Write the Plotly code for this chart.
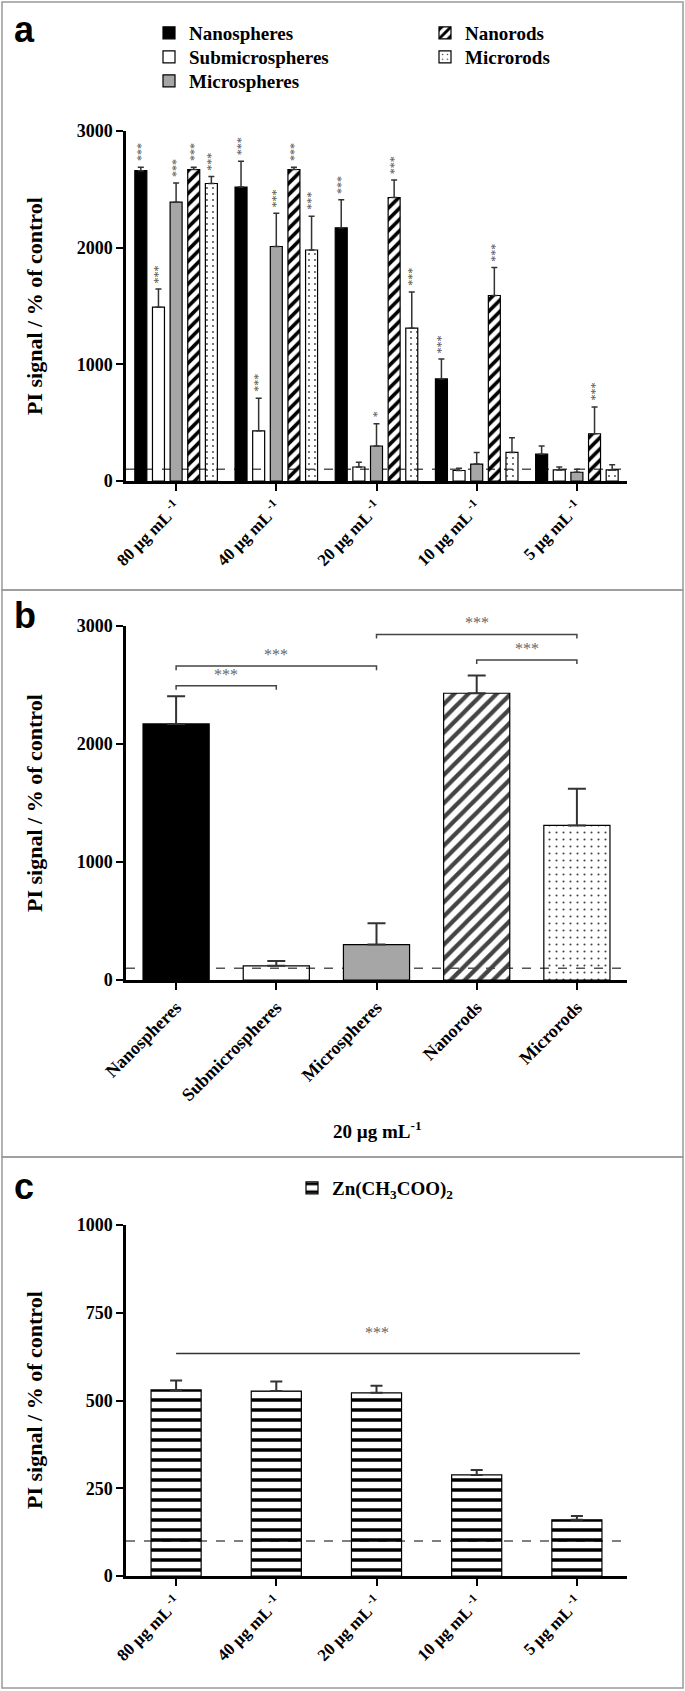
import plotly.graph_objects as go

W, H = 685, 1691

# ---- panel a: PI signal for each material at each concentration ----
conc_labels = ["80 µg mL <sup>-1</sup>", "40 µg mL <sup>-1</sup>", "20 µg mL <sup>-1</sup>",
               "10 µg mL <sup>-1</sup>", "5 µg mL <sup>-1</sup>"]
materials = ["Nanospheres", "Submicrospheres", "Microspheres", "Nanorods", "Microrods"]

nanospheres_mean = [2660, 2520, 2170, 875, 230]
nanospheres_sem = [30, 220, 240, 170, 70]
nanospheres_sig = ["***", "***", "***", "***", ""]

submicro_mean = [1490, 430, 120, 90, 95]
submicro_sem = [155, 280, 40, 20, 25]
submicro_sig = ["***", "***", "", "", ""]

microspheres_mean = [2390, 2010, 300, 145, 75]
microspheres_sem = [165, 285, 190, 100, 25]
microspheres_sig = ["***", "***", "*", "", ""]

nanorods_mean = [2670, 2670, 2430, 1590, 405]
nanorods_sem = [20, 20, 150, 240, 230]
nanorods_sig = ["***", "***", "***", "***", "***"]

microrods_mean = [2550, 1980, 1310, 245, 95]
microrods_sem = [60, 290, 310, 125, 45]
microrods_sig = ["***", "***", "***", "", ""]

# ---- panel b: 20 µg/mL comparison ----
b_mean = [2170, 120, 300, 2430, 1310]
b_sem = [235, 40, 180, 150, 310]
b_pairs = [(0, 1), (0, 2), (2, 4), (3, 4)]
b_bracket_y = [2494, 2661, 2929, 2712]

# ---- panel c: zinc acetate ----
c_mean = [530, 527, 522, 288, 160]
c_sem = [27, 27, 20, 14, 11]
c_sig_y = 634

control_level = 100

SERIF = "Liberation Serif"
SANS = "Liberation Sans"
CLEAR = "rgba(255,255,255,0)"

style = {
    "Nanospheres": dict(color="black", shape="", fg="black", size=8, sol=0.3),
    "Submicrospheres": dict(color=CLEAR, shape="", fg="black", size=8, sol=0.3),
    "Microspheres": dict(color="#a6a6a6", shape="", fg="black", size=8, sol=0.3),
    "Nanorods": dict(color=CLEAR, shape="/", fg="black", size=8, sol=0.45),
    "Microrods": dict(color=CLEAR, shape=".", fg="#444", size=6, sol=0.08),
}
# legend rows (px from left / top of the figure)
legend_pos = [(149, 33), (149, 57), (149, 81), (425, 33), (425, 57)]


def px_x(p):
    return p / W


def px_y(p):
    return 1 - p / H


fig = go.Figure()

series_a = [
    ("Nanospheres", nanospheres_mean, nanospheres_sem, nanospheres_sig),
    ("Submicrospheres", submicro_mean, submicro_sem, submicro_sig),
    ("Microspheres", microspheres_mean, microspheres_sem, microspheres_sig),
    ("Nanorods", nanorods_mean, nanorods_sem, nanorods_sig),
    ("Microrods", microrods_mean, microrods_sem, microrods_sig),
]
bargap = 0.12
slot = (1 - bargap) / len(series_a)
xs = list(range(len(conc_labels)))

annotations = []
legends = {}
legend_font = dict(family=SERIF, size=19, color="black", weight="bold")
for i, (name, mean, sem, sig) in enumerate(series_a):
    st = style[name]
    lid = "legend" if i == 0 else f"legend{i + 1}"
    lx, ly = legend_pos[i]
    legends[lid] = dict(x=px_x(lx), y=px_y(ly), xanchor="left", yanchor="middle",
                        bgcolor=CLEAR, font=legend_font)
    fig.add_trace(go.Bar(
        x=xs, y=mean, name=name,
        marker=dict(color=st["color"], line=dict(color="black", width=1.2),
                    pattern=dict(shape=st["shape"], fgcolor=st["fg"], bgcolor=CLEAR,
                                 fgopacity=1, size=st["size"], solidity=st["sol"])),
        error_y=dict(type="data", array=sem, arrayminus=[0] * len(sem), symmetric=False,
                     color="#333", thickness=1.5, width=3),
        legend=lid, xaxis="x", yaxis="y",
    ))
    for j, s in enumerate(sig):
        if s:
            annotations.append(dict(
                x=j + (i - 2) * slot, y=mean[j] + sem[j], xref="x", yref="y",
                text=s, showarrow=False, textangle=-90, yanchor="bottom", yshift=4,
                font=dict(family=SERIF, size=12, color="#555"),
            ))

# panel b: one trace, per-bar styles
fig.add_trace(go.Bar(
    x=xs, y=b_mean, showlegend=False, width=0.66,
    marker=dict(color=[style[m]["color"] for m in materials],
                line=dict(color="black", width=1.2),
                pattern=dict(shape=[style[m]["shape"] for m in materials],
                             fgcolor=[style[m]["fg"] for m in materials],
                             bgcolor=CLEAR, fgopacity=1, size=[10, 8, 8, 10, 7],
                             solidity=[0.3, 0.3, 0.3, 0.42, 0.07])),
    error_y=dict(type="data", array=b_sem, arrayminus=[0] * len(b_sem), symmetric=False,
                 color="#333", thickness=2, width=9),
    xaxis="x2", yaxis="y2",
))

# panel c
legends["legend6"] = dict(x=px_x(292), y=px_y(1188), xanchor="left", yanchor="middle",
                          bgcolor=CLEAR, font=legend_font)
fig.add_trace(go.Bar(
    x=xs, y=c_mean, name="Zn(CH<sub>3</sub>COO)<sub>2</sub>", width=0.5,
    marker=dict(color=CLEAR, line=dict(color="black", width=1.2),
                pattern=dict(shape="-", fgcolor="black", bgcolor=CLEAR, fgopacity=1,
                             size=10, solidity=0.35)),
    error_y=dict(type="data", array=c_sem, arrayminus=[0] * len(c_sem), symmetric=False,
                 color="#333", thickness=2, width=6),
    legend="legend6", xaxis="x3", yaxis="y3",
))

shapes = []
# control level dashed lines
for ax in ["", "2", "3"]:
    shapes.append(dict(type="line", xref=f"x{ax} domain", yref=f"y{ax}", x0=0, x1=1,
                       y0=control_level, y1=control_level, layer="below",
                       line=dict(color="#555", width=1.5, dash="dash")))

# panel b brackets
leg = 35
for (i0, i1), yb in zip(b_pairs, b_bracket_y):
    shapes.append(dict(type="path", xref="x2", yref="y2",
                       path=f"M {i0},{yb - leg} L {i0},{yb} L {i1},{yb} L {i1},{yb - leg}",
                       line=dict(color="#444", width=1.5)))
    annotations.append(dict(x=(i0 + i1) / 2, y=yb, xref="x2", yref="y2", text="***",
                            showarrow=False, yanchor="bottom", yshift=1,
                            font=dict(family=SERIF, size=16, color="#666")))

# panel c significance line
shapes.append(dict(type="line", xref="x3", yref="y3", x0=0, x1=4.03, y0=c_sig_y, y1=c_sig_y,
                   line=dict(color="#333", width=1.5)))
annotations.append(dict(x=2, y=c_sig_y, xref="x3", yref="y3", text="***", showarrow=False,
                        yanchor="bottom", yshift=10,
                        font=dict(family=SERIF, size=16, color="#666")))

# panel frames
for top, bottom in [(2, 590), (590, 1157), (1157, 1688)]:
    shapes.append(dict(type="rect", xref="paper", yref="paper", x0=px_x(2), x1=px_x(683),
                       y0=px_y(bottom), y1=px_y(top), line=dict(color="#999", width=1.5)))

# panel letters
for letter, yc in [("a", 30), ("b", 615), ("c", 1186)]:
    annotations.append(dict(x=px_x(12), y=px_y(yc), xref="paper", yref="paper", text=letter,
                            showarrow=False, xanchor="left", yanchor="middle",
                            font=dict(family=SANS, size=36, color="black", weight="bold")))

# y axis titles
for yc in [306, 803, 1400]:
    annotations.append(dict(x=px_x(34), y=px_y(yc), xref="paper", yref="paper",
                            text="PI signal / % of control", showarrow=False, textangle=-90,
                            xanchor="center", yanchor="middle",
                            font=dict(family=SERIF, size=22, color="black", weight="bold")))

# panel b x title
annotations.append(dict(x=px_x(377), y=px_y(1130), xref="paper", yref="paper",
                        text="20 µg mL<sup>-1</sup>", showarrow=False,
                        xanchor="center", yanchor="middle",
                        font=dict(family=SERIF, size=19, color="black", weight="bold")))

tick_font = dict(family=SERIF, size=18, color="black", weight="bold")
xtick_font = dict(family=SERIF, size=17, color="black", weight="bold")
x_dom = [px_x(126), px_x(627)]


def xaxis(anchor, ticktext, font):
    return dict(domain=x_dom, anchor=anchor, range=[-0.5, 4.5], tickvals=xs, ticktext=ticktext,
                tickangle=-45, showline=True, linecolor="black", linewidth=2.5,
                ticks="outside", ticklen=7, tickwidth=2, tickcolor="black",
                showgrid=False, zeroline=False, tickfont=font)


def yaxis(anchor, top, bottom, rng, tickvals):
    return dict(domain=[px_y(bottom), px_y(top)], anchor=anchor, range=rng, tickvals=tickvals,
                showline=True, linecolor="black", linewidth=2.5,
                ticks="outside", ticklen=7, tickwidth=2, tickcolor="black",
                showgrid=False, zeroline=False, tickfont=tick_font)


fig.update_layout(
    width=W, height=H,
    margin=dict(l=0, r=0, t=0, b=0, autoexpand=False),
    paper_bgcolor="white", plot_bgcolor="white",
    barmode="group", bargap=bargap, bargroupgap=0.32,
    xaxis=xaxis("y", conc_labels, xtick_font),
    yaxis=yaxis("x", 131, 481, [0, 3000], [0, 1000, 2000, 3000]),
    xaxis2=xaxis("y2", materials, tick_font),
    yaxis2=yaxis("x2", 626, 980, [0, 3000], [0, 1000, 2000, 3000]),
    xaxis3=xaxis("y3", conc_labels, xtick_font),
    yaxis3=yaxis("x3", 1225, 1576, [0, 1000], [0, 250, 500, 750, 1000]),
    shapes=shapes,
    annotations=annotations,
    **legends,
)

# drop the default page margin so the figure sits at the window's top-left corner
fig.write_html("out.html", config={"displayModeBar": False},
               post_script="document.body.style.margin='0px';")
